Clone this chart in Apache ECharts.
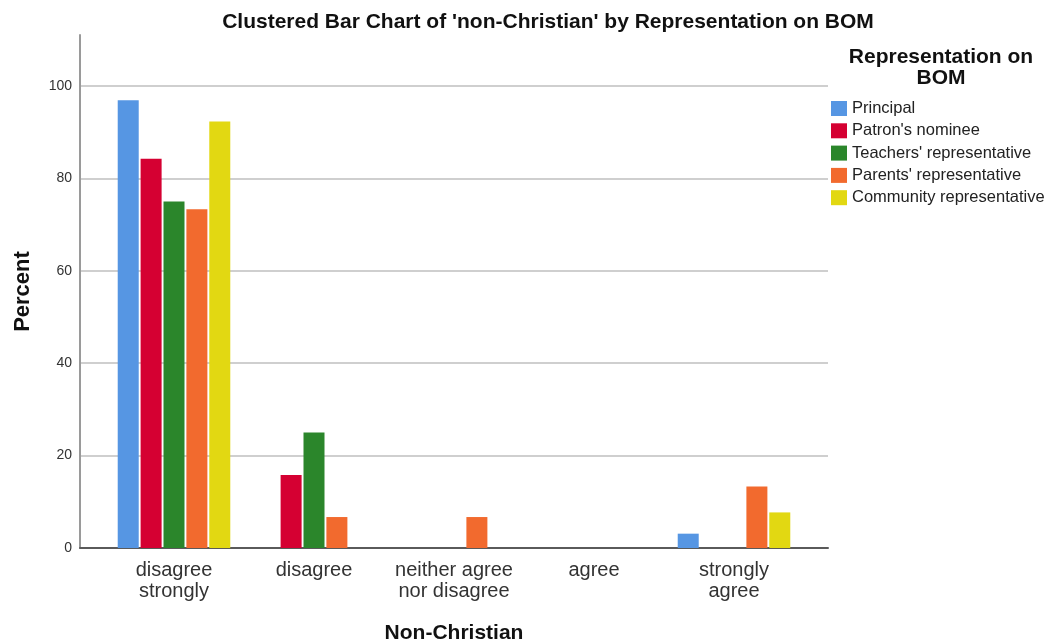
<!DOCTYPE html>
<html lang="en">
  <head>
    <meta charset="UTF-8" />
    <title>Clustered Bar Chart of 'non-Christian' by Representation on BOM</title>
    <script src="https://cdn.jsdelivr.net/npm/echarts@6/dist/echarts.min.js"></script>
    <style>
      * { margin: 0; padding: 0; box-sizing: border-box; }
      body { background: #fff; }
      #chart { width: 1051px; height: 643px; }
    </style>
  </head>
  <body>
    <div id="chart"></div>
    <script>
      /* ---------- data ---------- */
      const categories = [
        "disagree\nstrongly",
        "disagree",
        "neither agree\nnor disagree",
        "agree",
        "strongly\nagree",
      ];
      const principal = [96.9, 0, 0, 0, 3.1];
      const patron = [84.2, 15.8, 0, 0, 0];
      const teachers = [75.0, 25.0, 0, 0, 0];
      const parents = [73.3, 6.7, 6.7, 0, 13.3];
      const community = [92.3, 0, 0, 0, 7.7];

      const seriesNames = [
        "Principal",
        "Patron's nominee",
        "Teachers' representative",
        "Parents' representative",
        "Community representative",
      ];
      const seriesData = [principal, patron, teachers, parents, community];
      const colors = ["#5696e3", "#d50032", "#2b862b", "#f26a2e", "#e2d812"];

      const font = "'Liberation Sans', Arial, sans-serif";
      const yMax = 111;

      const chart = echarts.init(document.getElementById("chart"), null, {
        renderer: "canvas",
      });

      chart.setOption({
        backgroundColor: "#fff",
        animation: false,
        color: colors,
        textStyle: { fontFamily: font },
        title: [
          {
            text: "Clustered Bar Chart of 'non-Christian' by Representation on BOM",
            left: 543,
            top: 7,
            textAlign: "center",
            textStyle: { fontSize: 21, fontWeight: "bold", color: "#111", fontFamily: font },
          },
          {
            text: "Representation on\nBOM",
            left: 936,
            top: 42,
            textAlign: "center",
            textStyle: {
              fontSize: 21,
              fontWeight: "bold",
              color: "#111",
              lineHeight: 21,
              fontFamily: font,
            },
          },
        ],
        legend: {
          orient: "vertical",
          left: 826,
          top: 95,
          itemWidth: 16,
          itemHeight: 15,
          itemGap: 5.3,
          icon: "rect",
          textStyle: { fontSize: 16.5, lineHeight: 16, color: "#222" },
          data: seriesNames,
        },
        grid: [
          // frame: axis lines and gridlines
          { left: 80, right: 223, top: 35, bottom: 95, outerBoundsMode: "none" },
          // bars: categories laid out inside the frame
          { left: 104, right: 247, top: 35, bottom: 95, outerBoundsMode: "none" },
        ],
        xAxis: [
          {
            type: "value",
            gridIndex: 0,
            min: 0,
            max: 1,
            axisLine: { lineStyle: { color: "#5a5a5a", width: 2 } },
            axisTick: { show: false },
            axisLabel: { show: false },
            splitLine: { show: false },
          },
          {
            type: "category",
            gridIndex: 1,
            data: categories,
            axisLine: { show: false },
            axisTick: { show: false },
            axisLabel: {
              interval: 0,
              fontSize: 20,
              color: "#333",
              lineHeight: 21,
              margin: 12,
            },
            name: "Non-Christian",
            nameLocation: "middle",
            nameGap: 75,
            nameTextStyle: { fontSize: 21, fontWeight: "bold", color: "#111" },
          },
        ],
        yAxis: [
          {
            type: "value",
            gridIndex: 0,
            min: 0,
            max: yMax,
            interval: 20,
            axisLine: { show: true, lineStyle: { color: "#9a9a9a", width: 2 } },
            axisTick: { show: false },
            axisLabel: { fontSize: 14, color: "#333", margin: 8, showMaxLabel: false },
            splitLine: {
              show: true,
              showMaxLine: false,
              lineStyle: { color: "#cfcfcf", width: 2 },
            },
            name: "Percent",
            nameLocation: "middle",
            nameGap: 46,
            nameTextStyle: { fontSize: 22, fontWeight: "bold", color: "#111" },
          },
          {
            type: "value",
            gridIndex: 1,
            min: 0,
            max: yMax,
            show: false,
            splitLine: { show: false },
          },
        ],
        series: seriesNames.map((name, i) => ({
          name: name,
          type: "bar",
          xAxisIndex: 1,
          yAxisIndex: 1,
          data: seriesData[i],
          barWidth: 21,
          barGap: "9%",
          itemStyle: { color: colors[i] },
        })),
      });
    </script>
  </body>
</html>
